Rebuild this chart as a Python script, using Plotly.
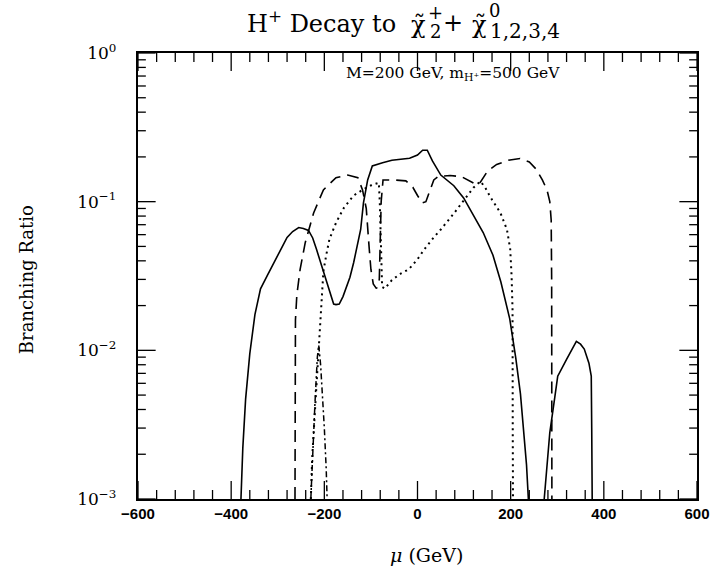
import math
import plotly.graph_objects as go

# ---- data (mu in GeV, branching ratio) ----
solid1_mu = [-379, -375, -369, -360, -349, -337, -322, -307, -293, -280, -268, -255, -245, -234, -225,
             -217, -208, -200, -192, -185, -180, -175, -168, -160, -154, -145, -137, -129, -122, -116,
             -111, -107, -97, -91, -75, -55, -35, -17, 0, 11, 21, 32, 50, 78, 99, 120, 141, 162, 179,
             198, 211, 221, 229, 234, 238]
solid1_br = [0.001, 0.0022, 0.0047, 0.0095, 0.0174, 0.0259, 0.032, 0.039, 0.048, 0.0575, 0.063, 0.067,
             0.066, 0.064, 0.057, 0.048, 0.039, 0.032, 0.026, 0.0222, 0.0205, 0.0203, 0.0205, 0.023,
             0.0259, 0.031, 0.039, 0.05, 0.065, 0.098, 0.12, 0.14, 0.174, 0.177, 0.183, 0.19, 0.193,
             0.196, 0.206, 0.222, 0.222, 0.188, 0.151, 0.128, 0.106, 0.081, 0.062, 0.0436, 0.0288,
             0.0163, 0.00885, 0.0051, 0.00275, 0.0017, 0.001]
solid2_mu = [272, 278, 284, 295, 301, 320, 341, 350, 358, 368, 373, 374, 375]
solid2_br = [0.001, 0.0018, 0.0028, 0.0049, 0.0067, 0.0087, 0.0115, 0.011, 0.0102, 0.0082, 0.0067,
             0.003, 0.001]

dashed_mu = [-263, -263, -262, -259, -252, -241, -223, -202, -175, -150, -128, -118, -110, -104, -100,
             -95, -88, -82, -80, -78, -74, -50, -25, -10, 0, 10, 18, 25, 35, 45, 70, 95, 115, 127, 135,
             150, 170, 195, 220, 240, 255, 268, 278, 284, 287, 288, 288.5]
dashed_br = [0.001, 0.008, 0.016, 0.0236, 0.035, 0.053, 0.084, 0.12, 0.145, 0.151, 0.145, 0.12, 0.09,
             0.05, 0.035, 0.028, 0.026, 0.03, 0.05, 0.1, 0.14, 0.14, 0.138, 0.125, 0.11, 0.098, 0.1,
             0.115, 0.14, 0.148, 0.15, 0.147, 0.137, 0.13, 0.135, 0.16, 0.178, 0.19, 0.195, 0.185, 0.165,
             0.14, 0.12, 0.1, 0.075, 0.03, 0.001]

dotted_mu = [-229, -226, -220, -213, -208, -202, -196, -189, -175, -158, -137, -118, -97, -86, -83, -81,
             -78, -76, -70, -55, -35, -19, 0, 15, 36, 50, 79, 103, 120, 135, 145, 156, 178, 192, 199,
             202, 204, 204.5, 205]
dotted_br = [0.001, 0.0019, 0.004, 0.0098, 0.019, 0.034, 0.0436, 0.056, 0.072, 0.091, 0.11, 0.12, 0.13,
             0.134, 0.134, 0.1, 0.04, 0.0267, 0.026, 0.0297, 0.033, 0.035, 0.041, 0.048, 0.058, 0.065,
             0.084, 0.106, 0.124, 0.137, 0.125, 0.108, 0.084, 0.065, 0.048, 0.0316, 0.019, 0.0027, 0.001]

dashdot_mu = [-229, -225, -220, -215, -212, -208, -204, -200, -196, -194]
dashdot_br = [0.001, 0.0022, 0.0045, 0.009, 0.0108, 0.008, 0.005, 0.003, 0.0016, 0.001]

x_ticks = [-600, -400, -200, 0, 200, 400, 600]
x_ticktext = ["\u2212600", "\u2212400", "\u2212200", "0", "200", "400", "600"]
x_minor = [v for v in range(-560, 600, 40) if v % 200 != 0]
y_ticks = [1e-3, 1e-2, 1e-1, 1]
y_ticktext = ["10<sup>\u22123</sup>", "10<sup>\u22122</sup>", "10<sup>\u22121</sup>", "10<sup>0</sup>"]
y_minor = [m * 10 ** e for e in (-3, -2, -1) for m in range(2, 10)]
Y_LOG_RANGE = [-3, 0]

# ---- layout geometry (pixels) ----
W, H = 722, 582
L, R, T, B = 138, 14, 53, 83
PW, PH = W - L - R, H - T - B


def px(xp, yp):
    return (xp - L) / PW, (H - B - yp) / PH


fig = go.Figure()
lw = 1.6
fig.add_trace(go.Scatter(x=solid1_mu, y=solid1_br, mode="lines",
                         line=dict(color="black", width=lw), showlegend=False))
fig.add_trace(go.Scatter(x=solid2_mu, y=solid2_br, mode="lines",
                         line=dict(color="black", width=lw), showlegend=False))
fig.add_trace(go.Scatter(x=dashed_mu, y=dashed_br, mode="lines",
                         line=dict(color="black", width=lw, dash="12px,7px"), showlegend=False))
fig.add_trace(go.Scatter(x=dotted_mu, y=dotted_br, mode="lines",
                         line=dict(color="black", width=2, dash="2px,4px"), showlegend=False))
fig.add_trace(go.Scatter(x=dashdot_mu, y=dashdot_br, mode="lines",
                         line=dict(color="black", width=1.5, dash="6px,3px,2px,3px"), showlegend=False))

fig.update_layout(
    width=W, height=H,
    margin=dict(l=L, r=R, t=T, b=B),
    paper_bgcolor="white", plot_bgcolor="white",
    xaxis=dict(range=[-600, 600], tickmode="array", tickvals=x_ticks, ticktext=x_ticktext,
               ticks="", showline=True, linecolor="black", linewidth=2, mirror=True,
               showgrid=False, zeroline=False,
               tickfont=dict(family="Liberation Sans", size=15, color="black", weight="bold")),
    yaxis=dict(type="log", range=Y_LOG_RANGE, tickmode="array", tickvals=y_ticks,
               ticktext=[t + "\u00a0\u00a0\u00a0" for t in y_ticktext],
               ticks="", showline=True, linecolor="black", linewidth=2, mirror=True,
               showgrid=False, zeroline=False,
               tickfont=dict(family="DejaVu Serif", size=17, color="black")),
)

# ---- inside tick marks on all four sides, placed at the tick values ----
tick_line = dict(color="black", width=1.3)
for vals, length in ((x_ticks, 18), (x_minor, 9)):
    for v in vals:
        h = length / PH
        fig.add_shape(type="line", xref="x", yref="paper", x0=v, x1=v, y0=0, y1=h, line=tick_line)
        fig.add_shape(type="line", xref="x", yref="paper", x0=v, x1=v, y0=1, y1=1 - h, line=tick_line)
for vals, length in ((y_ticks, 18), (y_minor, 8)):
    for v in vals:
        w = length / PW
        yp = (math.log10(v) - Y_LOG_RANGE[0]) / (Y_LOG_RANGE[1] - Y_LOG_RANGE[0])
        fig.add_shape(type="line", xref="paper", yref="paper", x0=0, x1=w, y0=yp, y1=yp, line=tick_line)
        fig.add_shape(type="line", xref="paper", yref="paper", x0=1, x1=1 - w, y0=yp, y1=yp, line=tick_line)

tf = "DejaVu Serif"
big, small = 24, 18


def txt(s, xp, yp, size, xanchor="center", angle=0):
    x, y = px(xp, yp)
    fig.add_annotation(text=s, xref="paper", yref="paper", x=x, y=y, showarrow=False,
                       xanchor=xanchor, yanchor="middle", textangle=angle,
                       font=dict(family=tf, size=size, color="black"))


# title: H+ Decay to chi~_2^+ + chi~^0_{1,2,3,4}
txt("H<sup>+</sup> Decay to", 403, 22, big, xanchor="right")
txt("\u03c7\u0303", 424, 25, big)
txt("+", 441, 12, small)
txt("2", 441, 31, small)
txt("+", 459, 23, big)
txt("\u03c7\u0303", 486, 25, big)
txt("0", 502, 10, small)
txt("1,2,3,4", 495, 31, small + 2, xanchor="left")

txt("M=200 GeV, m<sub>H\u207a</sub>=500 GeV", 459, 74, 15.5)
txt("Branching Ratio", 24, 280, 18, angle=-90)
txt("<i>\u03bc</i> (GeV)", 432, 555, 19)

fig.write_html("out.html")
